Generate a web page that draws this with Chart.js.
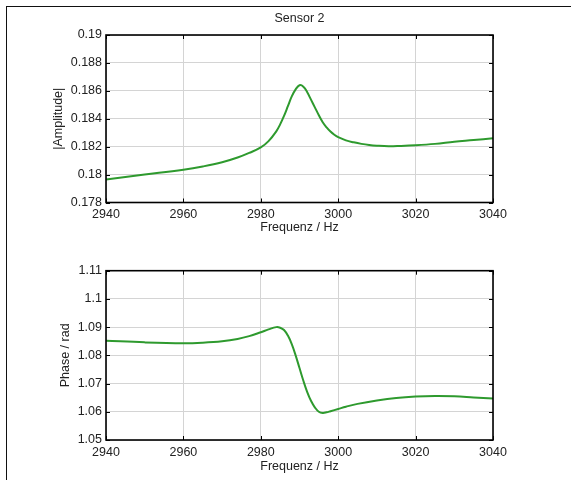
<!DOCTYPE html>
<html>
<head>
<meta charset="utf-8">
<script src="https://cdn.jsdelivr.net/npm/chart.js@4/dist/chart.umd.min.js"></script>
<style>
  html, body { margin:0; padding:0; background:#fff; }
  #wrap { position:relative; width:571px; height:480px; overflow:hidden; background:#fff; }
  #frame { position:absolute; left:6px; top:6px; width:600px; height:500px; border-top:1px solid #111; border-left:1px solid #111; }
  .c { position:absolute; left:0; width:571px; height:240px; }
</style>
</head>
<body>
<div id="wrap">
  <div id="frame"></div>
  <div class="c" style="top:0"><canvas id="top"></canvas></div>
  <div class="c" style="top:240px"><canvas id="bot"></canvas></div>
</div>
<script>
// ---- data ----
const chartTitle = 'Sensor 2';
const xLabel = 'Frequenz / Hz';
const ampLabel = '|Amplitude|';
const phaseLabel = 'Phase / rad';

const xTicks = [2940, 2960, 2980, 3000, 3020, 3040];
const ampTicks = [0.178, 0.18, 0.182, 0.184, 0.186, 0.188, 0.19];
const phaseTicks = [1.05, 1.06, 1.07, 1.08, 1.09, 1.1, 1.11];

const ampFreq = [2940, 2950, 2960, 2965, 2970, 2974, 2977, 2980, 2982, 2984, 2985, 2986, 2987, 2988, 2989, 2990, 2991, 2992, 2993, 2994, 2995, 2996, 2997, 2998, 2999, 3000, 3002, 3004, 3006, 3008, 3010, 3013, 3016, 3020, 3025, 3030, 3035, 3040];
const ampValues = [0.17965, 0.18, 0.18035, 0.18058, 0.18088, 0.18122, 0.18155, 0.18195, 0.1824, 0.1831, 0.1836, 0.1842, 0.1849, 0.1856, 0.1861, 0.1864, 0.1863, 0.1859, 0.18535, 0.1848, 0.18425, 0.18375, 0.18338, 0.18308, 0.18285, 0.18268, 0.18245, 0.18231, 0.1822, 0.18212, 0.18207, 0.18203, 0.18205, 0.1821, 0.1822, 0.18235, 0.18247, 0.1826];

const phaseFreq = [2940, 2950, 2960, 2965, 2970, 2974, 2977, 2980, 2982, 2984, 2985, 2986, 2987, 2988, 2989, 2990, 2991, 2992, 2993, 2994, 2995, 2996, 2997, 2998, 3000, 3002, 3005, 3010, 3015, 3020, 3025, 3030, 3035, 3040];
const phaseValues = [1.0852, 1.0846, 1.0843, 1.0845, 1.085, 1.0858, 1.0868, 1.0882, 1.0892, 1.09, 1.0898, 1.089, 1.087, 1.084, 1.08, 1.0755, 1.071, 1.067, 1.0638, 1.0615, 1.06, 1.0596, 1.0598, 1.0602, 1.061, 1.0618, 1.0628, 1.064, 1.0649, 1.0654, 1.0656, 1.0655, 1.0651, 1.0647];

const lineColor = '#2e9a2e';
const FONT = "'Liberation Sans', Arial, Helvetica, sans-serif";

// ---- MATLAB-like box with inward ticks ----
const boxPlugin = {
  id: 'matlabBox',
  afterDatasetsDraw(chart) {
    const {ctx, chartArea: a, scales} = chart;
    ctx.save();
    ctx.strokeStyle = '#000';
    ctx.lineWidth = 1;
    const tl = 4;
    ctx.beginPath();
    scales.x.ticks.forEach(t => {
      const px = Math.round(scales.x.getPixelForValue(t.value)) + 0.5;
      ctx.moveTo(px, a.bottom); ctx.lineTo(px, a.bottom - tl);
      ctx.moveTo(px, a.top); ctx.lineTo(px, a.top + tl);
    });
    scales.y.ticks.forEach(t => {
      const py = Math.round(scales.y.getPixelForValue(t.value)) + 0.5;
      ctx.moveTo(a.left, py); ctx.lineTo(a.left + tl, py);
      ctx.moveTo(a.right, py); ctx.lineTo(a.right - tl, py);
    });
    ctx.stroke();
    ctx.lineWidth = 1.6;
    ctx.strokeRect(a.left, a.top, a.right - a.left, a.bottom - a.top);
    ctx.restore();
  }
};

function makeChart(id, freqs, vals, yTicks, yTitle, opts) {
  const fmt = d => v => Number(v.toFixed(d)).toString();
  return new Chart(document.getElementById(id), {
    type: 'line',
    data: {
      datasets: [{
        data: freqs.map((f, i) => ({x: f, y: vals[i]})),
        borderColor: lineColor,
        borderWidth: 2,
        pointRadius: 0,
        tension: 0.4,
        fill: false
      }]
    },
    options: {
      responsive: false,
      animation: false,
      devicePixelRatio: 1,
      layout: { padding: opts.padding },
      plugins: {
        legend: { display: false },
        tooltip: { enabled: false },
        title: opts.title ? {
          display: true, text: opts.title, color: '#222', fullSize: false,
          font: { family: FONT, size: 12.5, weight: 'normal', lineHeight: 1.2 },
          padding: { top: 6, bottom: 9 }
        } : { display: false }
      },
      scales: {
        x: {
          type: 'linear',
          min: xTicks[0], max: xTicks[xTicks.length - 1],
          afterBuildTicks: s => { s.ticks = xTicks.map(v => ({value: v})); },
          afterFit: s => { s.height = opts.xH; },
          ticks: { color: '#222', padding: 5, maxRotation: 0, autoSkip: false,
                   font: { family: FONT, size: 12.5 }, callback: v => String(v) },
          grid: { color: '#d4d4d4', lineWidth: 1, drawTicks: false },
          border: { display: false },
          title: { display: true, text: xLabel, color: '#222',
                   font: { family: FONT, size: 12.5 }, padding: { top: 0, bottom: opts.xTitlePad } }
        },
        y: {
          type: 'linear',
          min: yTicks[0], max: yTicks[yTicks.length - 1],
          afterBuildTicks: s => { s.ticks = yTicks.map(v => ({value: v})); },
          afterFit: s => { s.width = opts.yW; },
          ticks: { color: '#222', padding: 4, autoSkip: false,
                   font: { family: FONT, size: 12.5 }, callback: fmt(opts.dec) },
          grid: { color: '#d4d4d4', lineWidth: 1, drawTicks: false },
          border: { display: false },
          title: { display: true, text: yTitle, color: '#222',
                   font: { family: FONT, size: 12.5 }, padding: { top: 6, bottom: 0 } }
        }
      }
    },
    plugins: [boxPlugin]
  });
}

function sizeCanvas(id) {
  const c = document.getElementById(id);
  c.width = 571; c.height = 240;
  c.style.width = '571px'; c.style.height = '240px';
}
sizeCanvas('top'); sizeCanvas('bot');

makeChart('top', ampFreq, ampValues, ampTicks, ampLabel, {
  title: chartTitle,
  padding: { top: 5, left: 45, right: 78, bottom: 0 },
  yW: 61, xH: 37.5, xTitlePad: 5, dec: 3
});
makeChart('bot', phaseFreq, phaseValues, phaseTicks, phaseLabel, {
  title: null,
  padding: { top: 30.7, left: 52, right: 78, bottom: 0 },
  yW: 54, xH: 40, xTitlePad: 6, dec: 2
});
</script>
</body>
</html>
